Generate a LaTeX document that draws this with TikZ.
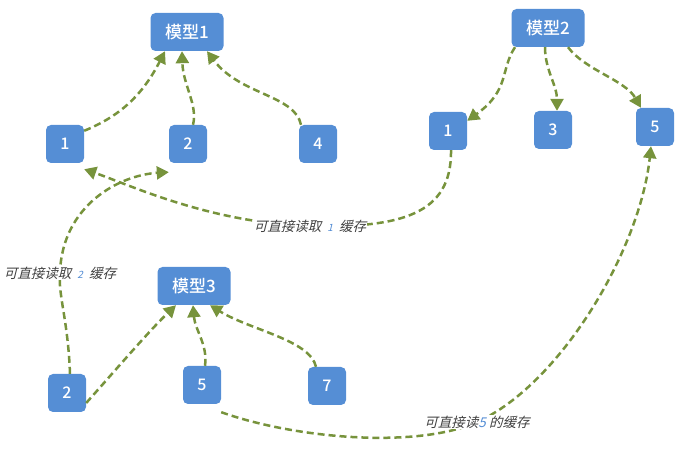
\documentclass[tikz,border=0pt]{standalone}
\usepackage{fontspec}
\setmainfont{Noto Sans CJK SC}
\newfontfamily\boxfont{Noto Sans CJK SC Medium}
\newfontfamily\lblfont[FakeSlant=0.25]{Noto Sans CJK SC}
\usetikzlibrary{arrows.meta}
\definecolor{boxblue}{HTML}{558ED5}
\definecolor{arrgreen}{HTML}{77933C}
\definecolor{lblgray}{HTML}{404040}
\begin{document}
\begin{tikzpicture}[x=1pt,y=-1pt,
  model/.style={draw=none,fill=boxblue,rounded corners=5pt,text=white,minimum width=73pt,minimum height=38pt,font=\boxfont\fontsize{17}{17}\selectfont,inner sep=0pt},
  small/.style={draw=none,fill=boxblue,rounded corners=5pt,text=white,minimum width=38pt,minimum height=38pt,font=\boxfont\fontsize{16}{16}\selectfont,inner sep=0pt},
  conn/.style={draw=arrgreen,line width=2.5pt,dash pattern=on 7pt off 4pt,-{Triangle[length=12pt,width=13pt]}},
  lbl/.style={fill=white,text=lblgray,font=\lblfont\fontsize{13.5}{14}\selectfont,inner sep=1pt}
]
\useasboundingbox (0,0) rectangle (689,449);
% nodes
\node[model] (m1) at (187,32) {模型1};
\node[model] (m2) at (548,28) {模型2};
\node[model] (m3) at (194,286) {模型3};
\node[small] (a1) at (65,144) {1};
\node[small] (a2) at (188,144) {2};
\node[small] (a4) at (318,144) {4};
\node[small] (b1) at (448,131) {1};
\node[small] (b3) at (553,130) {3};
\node[small] (b5) at (655,127) {5};
\node[small] (c2) at (67,393) {2};
\node[small] (c5) at (202,385) {5};
\node[small] (c7) at (327,386) {7};
% connectors to model 1
\draw[conn] ([yshift=-6pt]a1.north east) .. controls (115,118) and (140,100) .. ([xshift=-22pt]m1.south);
\draw[conn] ([xshift=5pt]a2.north) .. controls (198,105) and (183,85) .. ([xshift=-5pt]m1.south);
\draw[conn] ([xshift=-17pt]a4.north) .. controls (295,95) and (240,95) .. ([xshift=20pt]m1.south);
% model 2
\draw[conn] ([xshift=-33pt]m2.south) .. controls (500,70) and (510,90) .. ([yshift=-9pt]b1.north east);
\draw[conn] ([xshift=-3pt]m2.south) .. controls (545,70) and (557,85) .. ([xshift=4pt]b3.north);
\draw[conn] ([xshift=20pt]m2.south) .. controls (585,70) and (625,80) .. ([xshift=-14pt]b5.north);
% model 3
\draw[conn] ([yshift=-10pt]c2.east) .. controls (120,365) and (150,330) .. ([xshift=-18pt]m3.south);
\draw[conn] ([xshift=3pt]c5.north) .. controls (208,345) and (195,330) .. ([xshift=-1pt]m3.south);
\draw[conn] ([xshift=-11pt]c7.north) .. controls (310,340) and (250,330) .. ([xshift=16pt]m3.south);
% long connectors
\draw[conn] ([xshift=3pt]b1.south) .. controls (452,215) and (400,228) .. (310,226)
  node[lbl] (l1) {可直接读取\ \ {\color{boxblue}\fontsize{10}{10}\selectfont 1}\ \ 缓存}
  .. controls (210,223) and (130,185) .. ([yshift=-6pt]a1.south east);
\draw[conn] ([xshift=3pt]c2.north) .. controls (68,320) and (58,295) .. (60,273)
  node[lbl] (l2) {可直接读取\ \ {\color{boxblue}\fontsize{10}{10}\selectfont 2}\ \ 缓存}
  .. controls (62,205) and (120,175) .. ([yshift=-9pt]a2.south west);
\draw[conn] ([yshift=-8pt]c5.south east) .. controls (300,440) and (420,448) .. (477,422)
  node[lbl] (l3) {可直接读{\color{boxblue}5}\ 的缓存}
  .. controls (560,385) and (640,250) .. ([xshift=-4pt]b5.south);
\end{tikzpicture}
\end{document}
